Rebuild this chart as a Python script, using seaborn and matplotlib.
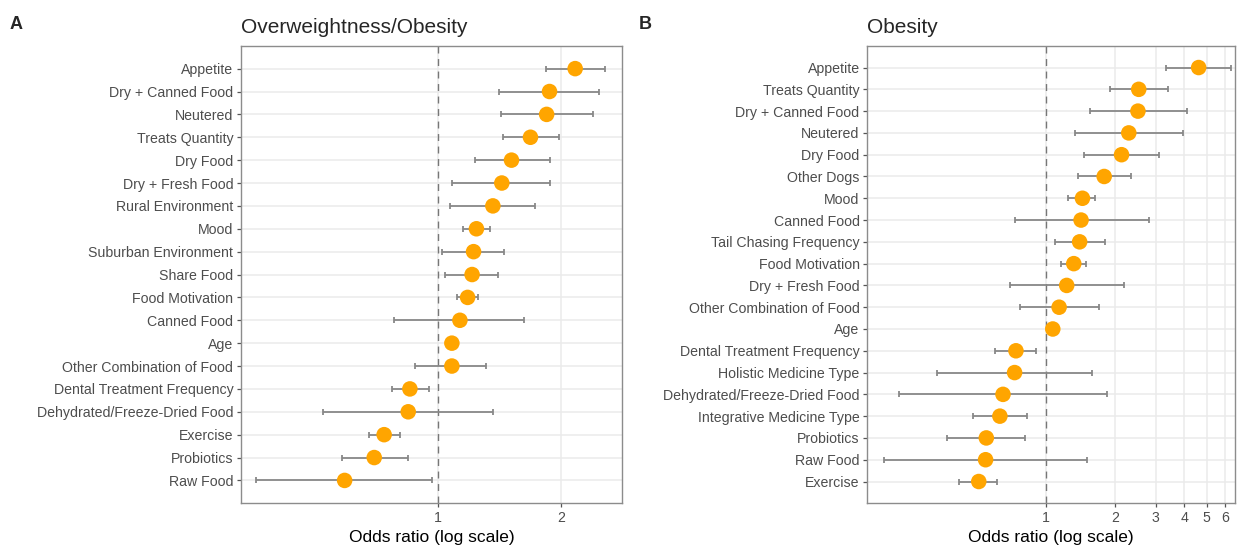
import numpy as np
import pandas as pd
import matplotlib
matplotlib.use("Agg")
import matplotlib.pyplot as plt
import seaborn as sns

# Panel A: overweightness/obesity (odds ratio, lower CI, upper CI)
a_labels = ['Appetite', 'Dry + Canned Food', 'Neutered', 'Treats Quantity', 'Dry Food',
            'Dry + Fresh Food', 'Rural Environment', 'Mood', 'Suburban Environment',
            'Share Food', 'Food Motivation', 'Canned Food', 'Age',
            'Other Combination of Food', 'Dental Treatment Frequency',
            'Dehydrated/Freeze-Dried Food', 'Exercise', 'Probiotics', 'Raw Food']
a_or = [2.16, 1.87, 1.84, 1.68, 1.51, 1.43, 1.36, 1.24, 1.22, 1.21, 1.18, 1.13, 1.08,
        1.08, 0.853, 0.845, 0.738, 0.698, 0.591]
a_lo = [1.83, 1.41, 1.42, 1.44, 1.23, 1.08, 1.07, 1.15, 1.02, 1.04, 1.11, 0.78, 1.07,
        0.88, 0.77, 0.524, 0.677, 0.581, 0.36]
a_hi = [2.56, 2.47, 2.39, 1.97, 1.87, 1.88, 1.72, 1.34, 1.45, 1.40, 1.25, 1.62, 1.09,
        1.31, 0.95, 1.36, 0.808, 0.845, 0.965]

# Panel B: obesity
b_labels = ['Appetite', 'Treats Quantity', 'Dry + Canned Food', 'Neutered', 'Dry Food',
            'Other Dogs', 'Mood', 'Canned Food', 'Tail Chasing Frequency',
            'Food Motivation', 'Dry + Fresh Food', 'Other Combination of Food', 'Age',
            'Dental Treatment Frequency', 'Holistic Medicine Type',
            'Dehydrated/Freeze-Dried Food', 'Integrative Medicine Type', 'Probiotics',
            'Raw Food', 'Exercise']
b_or = [4.61, 2.53, 2.51, 2.29, 2.13, 1.79, 1.44, 1.42, 1.40, 1.32, 1.23, 1.14, 1.07,
        0.74, 0.73, 0.65, 0.63, 0.55, 0.546, 0.51]
b_lo = [3.33, 1.90, 1.55, 1.34, 1.46, 1.38, 1.25, 0.73, 1.09, 1.16, 0.70, 0.77, 1.06,
        0.60, 0.336, 0.23, 0.48, 0.37, 0.198, 0.42]
b_hi = [6.37, 3.38, 4.09, 3.93, 3.11, 2.35, 1.64, 2.79, 1.80, 1.49, 2.18, 1.70, 1.08,
        0.90, 1.58, 1.85, 0.83, 0.81, 1.51, 0.61]

sns.set_style("white")
plt.rcParams['font.family'] = ['Liberation Sans', 'DejaVu Sans']

fig = plt.figure(figsize=(12.37, 5.46), dpi=100)


def forest(ax, labels, odds, lo, hi, xlim, xticks, title):
    df = pd.DataFrame({'label': labels, 'or': odds, 'lo': lo, 'hi': hi})
    df['pos'] = np.arange(len(df))
    ax.set_xscale('log')
    for x in xticks:
        ax.axvline(x, color='#EBEBEB', lw=1.1, zorder=0)
    for y in df['pos']:
        ax.axhline(y, color='#EBEBEB', lw=1.1, zorder=0)
    ax.axvline(1, color='#777777', lw=1.0, ls=(0, (5, 4)), zorder=1)
    ax.errorbar(df['or'], df['pos'],
                xerr=[df['or'] - df['lo'], df['hi'] - df['or']],
                fmt='none', ecolor='#888888', elinewidth=1.3, capsize=2.2,
                capthick=1.3, zorder=2)
    sns.scatterplot(data=df, x='or', y='pos', ax=ax, color='#FFA500', s=125,
                    edgecolor='none', zorder=3, legend=False)
    ax.set_xlim(*xlim)
    ax.set_ylim(len(df), -1)
    ax.set_xticks(xticks)
    ax.set_xticklabels([str(t) for t in xticks])
    ax.xaxis.set_minor_locator(matplotlib.ticker.NullLocator())
    ax.set_yticks(df['pos'])
    ax.set_yticklabels(df['label'])
    ax.tick_params(axis='both', labelsize=10.2, labelcolor='#4D4D4D', color='#555555',
                   length=3, width=0.9, left=True, bottom=True, pad=2.5)
    for s in ax.spines.values():
        s.set_color('#8C8C8C')
        s.set_linewidth(1.0)
    ax.set_xlabel('Odds ratio (log scale)', fontsize=12.5, color='black', labelpad=4)
    ax.set_ylabel('')
    ax.set_title(title, fontsize=15, loc='left', pad=9)


ax_a = fig.add_axes([0.1948, 0.0782, 0.308, 0.838])
forest(ax_a, a_labels, a_or, a_lo, a_hi, (0.33, 2.81), [1, 2], 'Overweightness/Obesity')

ax_b = fig.add_axes([0.7011, 0.0782, 0.2975, 0.838])
forest(ax_b, b_labels, b_or, b_lo, b_hi, (0.167, 6.65), [1, 2, 3, 4, 5, 6], 'Obesity')

fig.text(0.008, 0.955, 'A', fontsize=13, fontweight='bold', va='center')
fig.text(0.516, 0.955, 'B', fontsize=13, fontweight='bold', va='center')

fig.savefig('out.png', dpi=100)
